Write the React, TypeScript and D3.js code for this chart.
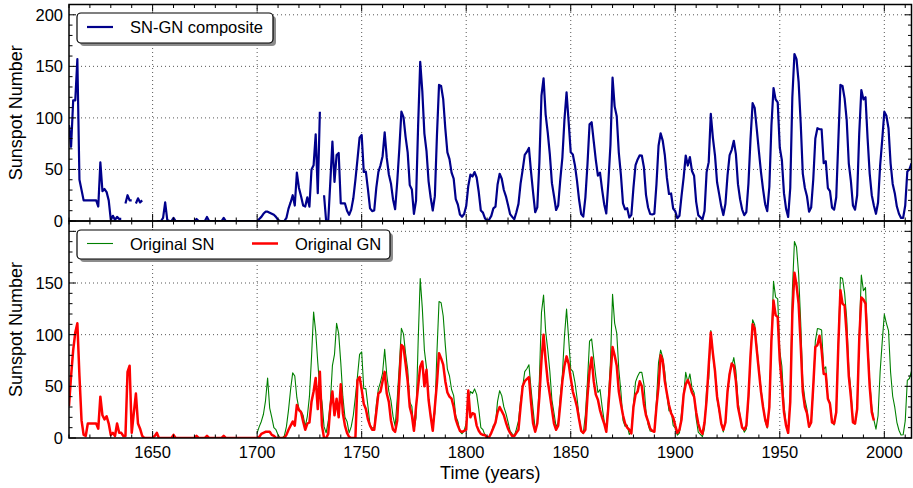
import React from "react";
import * as d3 from "d3";

// ---------- DATA (yearly values) ----------
const compositeStart = 1610;
const compositeValues: (number | null)[] = [
  // 1610
  93, 72, 117, 117, 157, 40, 30, 20, 20, 20,
  // 1620
  20, 20, 20, 20, 14, 57, 29, 31, 28, 20,
  // 1630
  1, 5, 1, 4, 2, 2, null, 17, 25, 20,
  // 1640
  20, null, 17, 22, 18, 20, null, null, null, null,
  // 1650
  null, null, 0, 0, 0, 3, 18, 1, 0, 0,
  // 1660
  3, 0, 0, 0, 0, 0, 0, 0, 0, 0,
  // 1670
  0, 2, 0, 0, 0, 0, 4, 0, 0, 0,
  // 1680
  0, 0, 0, 0, 3, 0, 0, 0, 0, 0,
  // 1690
  0, 0, 0, 0, 0, 0, 0, 0, 0, 0,
  // 1700
  0, 2, 4, 7, 9, 9, 8, 7, 6, 4,
  // 1710
  1, 0, 0, 0, 3, 12, 18, 25, 15, 47,
  // 1720
  32, 24, 15, 14, 23, 14, 50, 54, 84, 27,
  // 1730
  106, null, 25, 0, 0, 38, 77, 38, 64, 66,
  // 1740
  17, 17, 17, 10, 6, 11, 22, 40, 60, 80.9,
  // 1750
  83.4, 47.7, 47.8, 30.7, 12.2, 9.6, 10.2, 32.4, 47.6, 54.0,
  // 1760
  62.9, 85.9, 61.2, 45.1, 36.4, 20.9, 11.4, 37.8, 69.8, 106.1,
  // 1770
  100.8, 81.6, 66.5, 34.8, 30.6, 7.0, 19.8, 92.5, 154.4, 125.9,
  // 1780
  84.8, 68.1, 38.5, 22.8, 10.2, 24.1, 82.9, 132.0, 130.9, 118.1,
  // 1790
  89.9, 66.6, 60.0, 46.9, 41.0, 21.3, 16.0, 6.4, 4.1, 6.8,
  // 1800
  14.5, 34.0, 45.0, 43.1, 47.5, 42.2, 28.1, 10.1, 8.1, 2.5,
  // 1810
  0.0, 1.4, 5.0, 12.2, 13.9, 35.4, 45.8, 41.0, 30.1, 23.9,
  // 1820
  15.6, 6.6, 4.0, 1.8, 8.5, 16.6, 36.3, 49.6, 64.2, 67.0,
  // 1830
  70.9, 47.8, 27.5, 8.5, 13.2, 56.9, 121.5, 138.3, 103.2, 85.7,
  // 1840
  64.6, 36.7, 24.2, 10.7, 15.0, 40.1, 61.5, 98.5, 124.7, 96.3,
  // 1850
  66.6, 64.5, 54.1, 39.0, 20.6, 6.7, 4.3, 22.7, 54.8, 93.8,
  // 1860
  95.8, 77.2, 59.1, 44.0, 47.0, 30.5, 16.3, 7.3, 37.6, 74.0,
  // 1870
  139.0, 111.2, 101.6, 66.2, 44.7, 17.0, 11.3, 12.4, 3.4, 6.0,
  // 1880
  32.3, 54.3, 59.7, 63.7, 63.5, 52.2, 25.4, 13.1, 6.8, 6.3,
  // 1890
  7.1, 35.6, 73.0, 85.1, 78.0, 64.0, 41.8, 26.2, 26.7, 12.1,
  // 1900
  9.5, 2.7, 5.0, 24.4, 42.0, 63.5, 53.8, 62.0, 48.5, 43.9,
  // 1910
  18.6, 5.7, 3.6, 1.4, 9.6, 47.4, 57.1, 103.9, 80.6, 63.6,
  // 1920
  37.6, 26.1, 14.2, 5.8, 16.7, 44.3, 63.9, 69.0, 77.8, 64.9,
  // 1930
  35.7, 21.2, 11.1, 5.7, 8.7, 36.1, 79.7, 114.4, 109.6, 88.8,
  // 1940
  67.8, 47.5, 30.6, 16.3, 9.6, 33.2, 92.6, 129, 118, 115,
  // 1950
  71, 59, 27, 12, 4, 32, 120, 162, 157, 135,
  // 1960
  95, 46, 32, 24, 9, 13, 40, 80, 90, 89,
  // 1970
  89, 56, 58, 32, 29, 13, 11, 23, 78, 132,
  // 1980
  131, 119, 98, 56, 39, 15, 11, 25, 85, 127,
  // 1990
  118, 120, 80, 46, 25, 15, 7, 18, 54, 79,
  // 2000
  106, 102, 90, 56, 36, 27, 14, 7, 3, 3,
  // 2010
  15, 48, 50, 56,
];

const snStart = 1700;
const snValues: number[] = [
  // 1700
  5, 11, 16, 23, 36, 58, 29, 20, 10, 8,
  // 1710
  3, 0, 0, 2, 11, 27, 47, 63, 60, 39,
  // 1720
  28, 26, 22, 11, 21, 40, 78, 122, 103, 73,
  // 1730
  47, 35, 11, 5, 16, 34, 70, 81, 111, 101,
  // 1740
  73, 40, 20, 16, 5, 11, 22, 40, 60, 80.9,
  // 1750
  83.4, 47.7, 47.8, 30.7, 12.2, 9.6, 10.2, 32.4, 47.6, 54.0,
  // 1760
  62.9, 85.9, 61.2, 45.1, 36.4, 20.9, 11.4, 37.8, 69.8, 106.1,
  // 1770
  100.8, 81.6, 66.5, 34.8, 30.6, 7.0, 19.8, 92.5, 154.4, 125.9,
  // 1780
  84.8, 68.1, 38.5, 22.8, 10.2, 24.1, 82.9, 132.0, 130.9, 118.1,
  // 1790
  89.9, 66.6, 60.0, 46.9, 41.0, 21.3, 16.0, 6.4, 4.1, 6.8,
  // 1800
  14.5, 34.0, 45.0, 43.1, 47.5, 42.2, 28.1, 10.1, 8.1, 2.5,
  // 1810
  0.0, 1.4, 5.0, 12.2, 13.9, 35.4, 45.8, 41.0, 30.1, 23.9,
  // 1820
  15.6, 6.6, 4.0, 1.8, 8.5, 16.6, 36.3, 49.6, 64.2, 67.0,
  // 1830
  70.9, 47.8, 27.5, 8.5, 13.2, 56.9, 121.5, 138.3, 103.2, 85.7,
  // 1840
  64.6, 36.7, 24.2, 10.7, 15.0, 40.1, 61.5, 98.5, 124.7, 96.3,
  // 1850
  66.6, 64.5, 54.1, 39.0, 20.6, 6.7, 4.3, 22.7, 54.8, 93.8,
  // 1860
  95.8, 77.2, 59.1, 44.0, 47.0, 30.5, 16.3, 7.3, 37.6, 74.0,
  // 1870
  139.0, 111.2, 101.6, 66.2, 44.7, 17.0, 11.3, 12.4, 3.4, 6.0,
  // 1880
  32.3, 54.3, 59.7, 63.7, 63.5, 52.2, 25.4, 13.1, 6.8, 6.3,
  // 1890
  7.1, 35.6, 73.0, 85.1, 78.0, 64.0, 41.8, 26.2, 26.7, 12.1,
  // 1900
  9.5, 2.7, 5.0, 24.4, 42.0, 63.5, 53.8, 62.0, 48.5, 43.9,
  // 1910
  18.6, 5.7, 3.6, 1.4, 9.6, 47.4, 57.1, 103.9, 80.6, 63.6,
  // 1920
  37.6, 26.1, 14.2, 5.8, 16.7, 44.3, 63.9, 69.0, 77.8, 64.9,
  // 1930
  35.7, 21.2, 11.1, 5.7, 8.7, 36.1, 79.7, 114.4, 109.6, 88.8,
  // 1940
  67.8, 47.5, 30.6, 16.3, 9.6, 33.2, 92.6, 151.6, 136.3, 134.7,
  // 1950
  83.9, 69.4, 31.5, 13.9, 4.4, 38.0, 141.7, 190.2, 184.8, 159.0,
  // 1960
  112.3, 53.9, 37.6, 27.9, 10.2, 15.1, 47.0, 93.8, 105.9, 105.5,
  // 1970
  104.5, 66.6, 68.9, 38.0, 34.5, 15.5, 12.6, 27.5, 92.5, 155.4,
  // 1980
  154.6, 140.4, 115.9, 66.6, 45.9, 17.9, 13.4, 29.4, 100.2, 157.6,
  // 1990
  142.6, 145.7, 94.3, 54.6, 29.9, 17.5, 8.6, 21.5, 64.3, 93.3,
  // 2000
  119.6, 111.0, 104.0, 63.7, 40.4, 29.8, 15.2, 7.5, 2.9, 3.1,
  // 2010
  16.5, 55.7, 57.6, 64.7,
];

const gnStart = 1610;
const gnValues: number[] = [
  // 1610
  31, 60, 85, 102, 111, 60, 17, 3, 2, 14,
  // 1620
  14, 14, 14, 14, 9, 40, 22, 18, 21, 14,
  // 1630
  3, 5, 2, 14, 5, 5, 2, 2, 64, 70,
  // 1640
  5, 24, 43, 14, 9, 2, 0, 0, 0, 0,
  // 1650
  0, 2, 5, 0, 0, 0, 0, 0, 0, 0,
  // 1660
  3, 0, 0, 0, 0, 0, 0, 0, 0, 0,
  // 1670
  0, 2, 0, 0, 0, 0, 2, 0, 0, 0,
  // 1680
  0, 0, 0, 0, 2, 0, 0, 0, 0, 0,
  // 1690
  0, 0, 0, 0, 0, 0, 0, 0, 0, 0,
  // 1700
  0, 1, 4, 5, 6, 6, 6, 3, 2, 0,
  // 1710
  0, 0, 0, 0, 3, 8, 12, 16, 12, 32,
  // 1720
  27, 25, 16, 8, 14, 15, 35, 45, 58, 28,
  // 1730
  64, 12, 0, 0, 4, 30, 45, 22, 38, 20,
  // 1740
  52, 24, 12, 5, 1, 0, 0, 0, 56, 59,
  // 1750
  47, 33, 28, 18, 12, 8, 8, 25, 43, 45,
  // 1760
  55, 64, 43, 35, 17, 8, 6, 17, 55, 90,
  // 1770
  88, 72, 55, 30, 22, 7, 30, 50, 69, 74,
  // 1780
  50, 66, 37, 21, 7, 30, 53, 82, 77, 71,
  // 1790
  55, 44, 40, 38, 30, 18, 12, 7, 6, 7,
  // 1800
  8, 46, 20, 24, 23, 12, 7, 4, 3, 3,
  // 1810
  0, 1, 5, 10, 15, 25, 30, 26, 22, 15,
  // 1820
  9, 5, 2, 2, 5, 8, 30, 50, 55, 57,
  // 1830
  59, 35, 14, 6, 14, 40, 75, 100, 75, 55,
  // 1840
  42, 28, 14, 8, 12, 33, 55, 70, 79, 72,
  // 1850
  58, 45, 38, 30, 18, 7, 5, 8, 40, 65,
  // 1860
  78, 55, 42, 37, 27, 20, 14, 6, 30, 60,
  // 1870
  88, 80, 70, 45, 33, 22, 14, 10, 8, 4.5,
  // 1880
  30, 42, 45, 55, 50, 33, 22, 16, 9, 7,
  // 1890
  6, 30, 50, 80, 75, 55, 43, 32, 24, 20,
  // 1900
  12, 5, 8, 18, 42, 52, 56, 51, 44, 40,
  // 1910
  25, 14, 7, 4, 15, 37, 70, 102, 82, 65,
  // 1920
  40, 28, 14, 8, 15, 45, 62, 72, 70, 55,
  // 1930
  30, 20, 10, 8, 12, 40, 80, 110, 106, 85,
  // 1940
  65, 45, 30, 18, 11, 30, 95, 133, 119, 117,
  // 1950
  75, 52, 25, 12, 5, 35, 120, 160, 148, 130,
  // 1960
  90, 45, 30, 24, 11, 15, 50, 88, 90, 99,
  // 1970
  85, 62, 62, 38, 33, 15, 14, 25, 90, 143,
  // 1980
  130, 128, 100, 60, 40, 15, 14, 28, 95, 136,
  // 1990
  134, 130, 88, 50, 25, 17,
];

const xDomain = [1610, 2013];
const yDomain = [0, 210];
const xMajorTicks = [1650, 1700, 1750, 1800, 1850, 1900, 1950, 2000];
const topYTickLabels = [0, 50, 100, 150, 200];
const bottomYTickLabels = [0, 50, 100, 150];
const yGridValues = [50, 100, 150, 200];

const compositeLabel = "SN-GN composite";
const snLabel = "Original SN";
const gnLabel = "Original GN";
const yAxisTitle = "Sunspot Number";
const xAxisTitle = "Time (years)";

// ---------- LAYOUT ----------
const W = 913;
const H = 488;
const PLOT_L = 69;
const PLOT_R = 911.5;
const FONT = "'Liberation Sans', Arial, Helvetica, sans-serif";

const COLOR_COMP = "#00008b";
const COLOR_SN = "#008000";
const COLOR_GN = "#ff0000";

type Scale = d3.ScaleLinear<number, number>;

function Panel({
  id,
  x,
  y,
  yLabels,
  showXLabels,
  children,
}: {
  id: string;
  x: Scale;
  y: Scale;
  yLabels: number[];
  showXLabels: boolean;
  children: React.ReactNode;
}) {
  const [x0, x1] = x.range();
  const [yb, yt] = y.range();
  const xMinor = d3.range(1610, 2014, 10).filter((v) => v % 50 !== 0);
  const yMinor = d3.range(0, 211, 10).filter((v) => v % 50 !== 0);
  const yMajor = d3.range(0, 211, 50);
  const MAJ = 7;
  const MIN = 3.5;
  return (
    <g>
      <defs>
        <clipPath id={id}>
          <rect x={x0} y={yt} width={x1 - x0} height={yb - yt} />
        </clipPath>
      </defs>
      {/* grid */}
      <g stroke="#444" strokeWidth={0.9} strokeDasharray="1,3">
        {xMajorTicks.map((t) => (
          <line key={"gx" + t} x1={x(t)} x2={x(t)} y1={yb} y2={yt} />
        ))}
        {yGridValues.map((t) => (
          <line key={"gy" + t} x1={x0} x2={x1} y1={y(t)} y2={y(t)} />
        ))}
      </g>
      <g clipPath={`url(#${id})`}>{children}</g>
      {/* ticks */}
      <g stroke="#000" strokeWidth={1}>
        {xMajorTicks.map((t) => (
          <g key={"xt" + t}>
            <line x1={x(t)} x2={x(t)} y1={yb} y2={yb - MAJ} />
            <line x1={x(t)} x2={x(t)} y1={yt} y2={yt + MAJ} />
          </g>
        ))}
        {xMinor.map((t) => (
          <g key={"xm" + t}>
            <line x1={x(t)} x2={x(t)} y1={yb} y2={yb - MIN} />
            <line x1={x(t)} x2={x(t)} y1={yt} y2={yt + MIN} />
          </g>
        ))}
        {yMajor.map((t) => (
          <g key={"yt" + t}>
            <line x1={x0} x2={x0 + MAJ} y1={y(t)} y2={y(t)} />
            <line x1={x1} x2={x1 - MAJ} y1={y(t)} y2={y(t)} />
          </g>
        ))}
        {yMinor.map((t) => (
          <g key={"ym" + t}>
            <line x1={x0} x2={x0 + MIN} y1={y(t)} y2={y(t)} />
            <line x1={x1} x2={x1 - MIN} y1={y(t)} y2={y(t)} />
          </g>
        ))}
      </g>
      <rect x={x0} y={yt} width={x1 - x0} height={yb - yt} fill="none" stroke="#000" strokeWidth={1.5} />
      {/* tick labels */}
      <g fontFamily={FONT} fontSize={16.5} fill="#000">
        {yLabels.map((t) => (
          <text key={"yl" + t} x={x0 - 6} y={y(t)} dy="0.36em" textAnchor="end">
            {t}
          </text>
        ))}
        {showXLabels &&
          xMajorTicks.map((t) => (
            <text key={"xl" + t} x={x(t)} y={yb + 19.5} textAnchor="middle">
              {t}
            </text>
          ))}
      </g>
      <text
        transform={`translate(21.5, ${(yb + yt) / 2}) rotate(-90)`}
        textAnchor="middle"
        fontFamily={FONT}
        fontSize={18}
        fill="#000"
      >
        {yAxisTitle}
      </text>
    </g>
  );
}

function LegendBox({ x, y, w, h }: { x: number; y: number; w: number; h: number }) {
  return (
    <g>
      <rect x={x + 3} y={y + 3} width={w} height={h} rx={4} fill="#8c8c8c" />
      <rect x={x} y={y} width={w} height={h} rx={4} fill="#fff" stroke="#000" strokeWidth={1.2} />
    </g>
  );
}

export default function App() {
  const x = d3.scaleLinear().domain(xDomain).range([PLOT_L, PLOT_R]);
  const yTop = d3.scaleLinear().domain(yDomain).range([221, 4.5]);
  const yBot = d3.scaleLinear().domain(yDomain).range([438, 221]);

  const makeLine = (start: number, y: Scale) =>
    d3
      .line<number | null>()
      .defined((v) => v !== null && v !== undefined)
      .x((_, i) => x(start + i))
      .y((v) => y(v as number));

  const compPath = makeLine(compositeStart, yTop)(compositeValues) || "";
  const snPath = makeLine(snStart, yBot)(snValues) || "";
  const gnPath = makeLine(gnStart, yBot)(gnValues) || "";

  return (
    <svg
      width={W}
      height={H}
      viewBox={`0 0 ${W} ${H}`}
      style={{ position: "absolute", left: 0, top: 0, background: "#fff" }}
    >
      <rect x={0} y={0} width={W} height={H} fill="#fff" />
      <Panel id="clipTop" x={x} y={yTop} yLabels={topYTickLabels} showXLabels={false}>
        <path d={compPath} fill="none" stroke={COLOR_COMP} strokeWidth={2.2} strokeLinejoin="round" />
      </Panel>
      <Panel id="clipBot" x={x} y={yBot} yLabels={bottomYTickLabels} showXLabels={true}>
        <path d={snPath} fill="none" stroke={COLOR_SN} strokeWidth={1.1} strokeLinejoin="round" />
        <path d={gnPath} fill="none" stroke={COLOR_GN} strokeWidth={2.5} strokeLinejoin="round" />
      </Panel>

      {/* top legend */}
      <LegendBox x={77} y={13} w={196} h={30} />
      <line x1={87} x2={113} y1={27} y2={27} stroke={COLOR_COMP} strokeWidth={2.2} />
      <text x={130} y={33} fontFamily={FONT} fontSize={16.5} fill="#000">
        {compositeLabel}
      </text>

      {/* bottom legend */}
      <LegendBox x={77} y={230} w={313} h={29} />
      <line x1={87} x2={113} y1={243.5} y2={243.5} stroke={COLOR_SN} strokeWidth={1.1} />
      <text x={130} y={249.5} fontFamily={FONT} fontSize={16.5} fill="#000">
        {snLabel}
      </text>
      <line x1={252} x2={278} y1={243.5} y2={243.5} stroke={COLOR_GN} strokeWidth={2.5} />
      <text x={295} y={249.5} fontFamily={FONT} fontSize={16.5} fill="#000">
        {gnLabel}
      </text>

      <text x={(PLOT_L + PLOT_R) / 2} y={479} textAnchor="middle" fontFamily={FONT} fontSize={18} fill="#000">
        {xAxisTitle}
      </text>
    </svg>
  );
}
